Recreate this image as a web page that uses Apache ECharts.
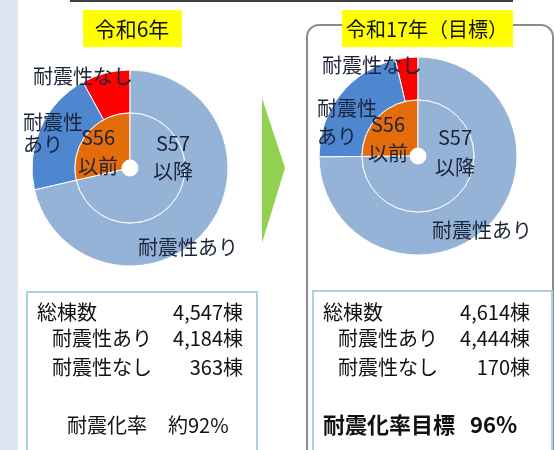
<!DOCTYPE html>
<html>
<head>
<meta charset="utf-8">
<script src="https://cdn.jsdelivr.net/npm/echarts@6/dist/echarts.min.js"></script>
<style>
  html, body { margin: 0; padding: 0; background: #fff; }
  #chart { width: 555px; height: 450px; }
</style>
</head>
<body>
<div id="chart"></div>
<script>
// データ
const titles = ['令和6年', '令和17年（目標）'];
const outerNames = ['耐震性なし', '耐震性\nあり', '耐震性あり'];
const innerNames = ['S56\n以前', 'S57\n以降'];
const outerR6 = [363, 937, 3247];
const innerR6 = [1300, 3247];
const outerR17 = [170, 990, 3454];
const innerR17 = [1160, 3454];

const rowLabels = ['総棟数', '耐震性あり', '耐震性なし'];
const rowsR6 = [4547, 4184, 363];
const rowsR17 = [4614, 4444, 170];
const rateLabels = ['耐震化率', '耐震化率目標'];
const rateValues = ['約92%', '96%'];

const chart = echarts.init(document.getElementById('chart'));
const FONT = '"Noto Sans CJK JP", "Noto Sans", sans-serif';
const LABEL_COLOR = '#1b2338';
const outerColors = ['#ff0000', '#4f86d0', '#95b3d7'];
const innerColors = ['#e46c0a', '#95b3d7'];

// ラベル位置 [x, y, align, lineHeight]
const labelPos = {
  r6Outer: [[83, 76, 'center', 20], [23, 133, 'left', 22], [188, 247, 'center', 20]],
  r6Inner: [[98, 152, 'center', 29], [173, 157, 'center', 28]],
  r17Outer: [[372, 65, 'center', 20], [317, 122, 'left', 28], [482, 230, 'center', 20]],
  r17Inner: [[388, 139, 'center', 29], [455, 152, 'center', 30]]
};

function pieSeries(names, values, colors, center, radius, pos) {
  return {
    type: 'pie',
    center: center,
    radius: radius,
    startAngle: 90,
    clockwise: false,
    silent: true,
    itemStyle: { borderColor: '#fff', borderWidth: 1 },
    label: {
      show: true,
      position: 'inside',
      formatter: '{b}',
      fontSize: 20,
      fontFamily: FONT,
      color: LABEL_COLOR
    },
    labelLine: { show: false },
    labelLayout: function (params) {
      const p = pos[params.dataIndex];
      return { x: p[0], y: p[1], align: p[2], verticalAlign: 'middle' };
    },
    data: names.map((n, i) => ({
      name: n,
      value: values[i],
      itemStyle: { color: colors[i] },
      label: { lineHeight: pos[i][3] }
    }))
  };
}

function tableText(x0, numRight, rows, rateIdx, rateX, rateValX, rateFont) {
  const els = [];
  const ys = [312, 338, 367];
  const xs = [x0, x0 + 15, x0 + 15];
  rows.forEach((v, i) => {
    els.push({
      type: 'text', x: xs[i], y: ys[i],
      style: { text: rowLabels[i], font: '20px ' + FONT, fill: '#111', textVerticalAlign: 'middle' }
    });
    els.push({
      type: 'text', x: numRight, y: ys[i],
      style: { text: v.toLocaleString('en-US') + '棟', font: '20px ' + FONT, fill: '#111',
        textAlign: 'right', textVerticalAlign: 'middle' }
    });
  });
  els.push({
    type: 'text', x: rateX, y: 425,
    style: { text: rateLabels[rateIdx], font: rateFont + FONT, fill: '#111', textVerticalAlign: 'middle' }
  });
  els.push({
    type: 'text', x: rateValX, y: 425,
    style: { text: rateValues[rateIdx], font: rateFont + FONT, fill: '#111', textVerticalAlign: 'middle' }
  });
  return els;
}

const graphics = [
  // 左の帯
  { type: 'rect', shape: { x: 0, y: 0, width: 18, height: 450 }, style: { fill: '#dce6f1' } },
  // 上の線
  { type: 'rect', shape: { x: 70, y: 0, width: 443, height: 2 }, style: { fill: '#3c3c3c' } },
  // 右パネル枠
  { type: 'rect', shape: { x: 307, y: 25, width: 246, height: 460, r: 12 },
    style: { fill: 'none', stroke: '#8c8c8c', lineWidth: 2 } },
  // 矢印
  { type: 'polygon', shape: { points: [[262, 98], [285, 168], [262, 243]] }, style: { fill: '#92d050' } },
  // タイトル
  { type: 'rect', shape: { x: 83, y: 10, width: 99, height: 37 }, style: { fill: '#ffff00' } },
  { type: 'text', x: 132, y: 29, style: { text: titles[0], font: '21px ' + FONT, fill: '#111',
      textAlign: 'center', textVerticalAlign: 'middle' } },
  { type: 'rect', shape: { x: 342, y: 10, width: 171, height: 37 }, style: { fill: '#ffff00' } },
  { type: 'text', x: 427, y: 29, style: { text: titles[1], font: '20px ' + FONT, fill: '#111',
      textAlign: 'center', textVerticalAlign: 'middle' } },
  // 表の枠
  { type: 'rect', shape: { x: 27, y: 292, width: 230, height: 180 },
    style: { fill: '#fff', stroke: '#a9d3dc', lineWidth: 2 } },
  { type: 'rect', shape: { x: 313, y: 291, width: 239, height: 180 },
    style: { fill: '#fff', stroke: '#a9d3dc', lineWidth: 2 } }
].concat(
  tableText(37, 243, rowsR6, 0, 67, 168, '20px '),
  tableText(323, 530, rowsR17, 1, 323, 470, 'bold 22px ')
);

const option = {
  animation: false,
  backgroundColor: '#fff',
  graphic: { elements: graphics },
  series: [
    pieSeries(outerNames, outerR6, outerColors, [130, 168], [55, 98], labelPos.r6Outer),
    pieSeries(innerNames, innerR6, innerColors, [130, 168], [8, 55], labelPos.r6Inner),
    pieSeries(outerNames, outerR17, outerColors, [418, 156], [56, 99], labelPos.r17Outer),
    pieSeries(innerNames, innerR17, innerColors, [418, 156], [8, 56], labelPos.r17Inner)
  ]
};

chart.setOption(option);
</script>
</body>
</html>
